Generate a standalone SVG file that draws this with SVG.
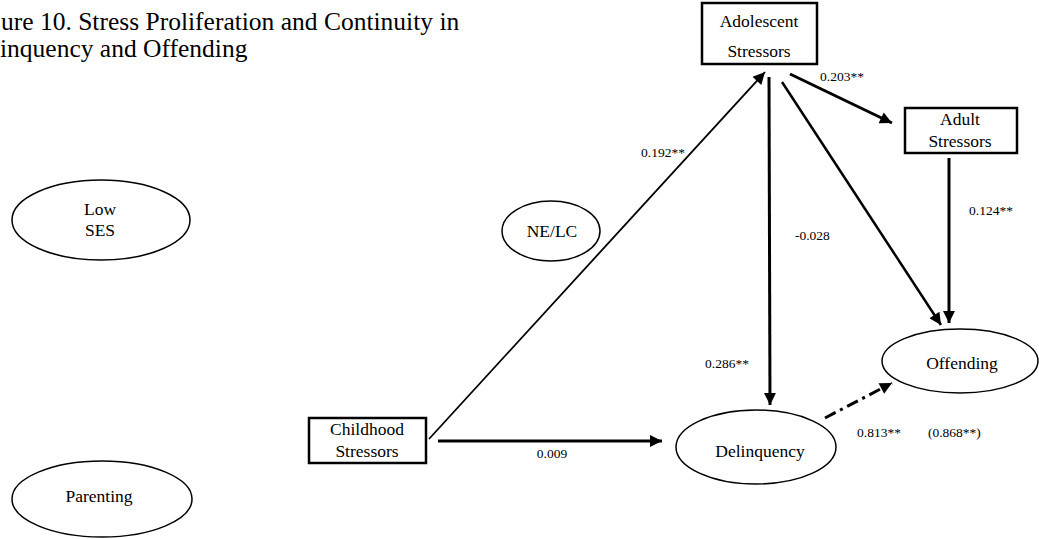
<svg xmlns="http://www.w3.org/2000/svg" width="1039" height="539" viewBox="0 0 1039 539" font-family="'Liberation Serif','Times New Roman',serif">
<style>
.title{font-family:"Liberation Serif","Times New Roman",serif;font-size:25.5px;fill:#000}
.node{font-family:"Liberation Serif","Times New Roman",serif;font-size:17.5px;text-anchor:middle;fill:#000}
.lbl{font-family:"Liberation Serif","Times New Roman",serif;font-size:13.5px;fill:#000}
.box{fill:#fff;stroke:#000;stroke-width:2.5}
.ell{fill:#fff;stroke:#000;stroke-width:1.5}
.c{stroke:#000;fill:none;stroke-width:3}
.thin{stroke-width:1.8}
.mid{stroke-width:2.5}
.dd{stroke-dasharray:12,5,3,5}
</style>
<defs>
<marker id="ah" viewBox="0 0 10 10" refX="10" refY="5" markerWidth="14" markerHeight="12" markerUnits="userSpaceOnUse" orient="auto">
<path d="M0,0 L10,5 L0,10 z" fill="#000"/>
</marker>
</defs>
<text class="title" x="1" y="30">ure 10. Stress Proliferation and Continuity in</text>
<text class="title" x="0" y="57">inquency and Offending</text>
<g id="connectors">
<line class="c thin" x1="429" y1="439" x2="765" y2="72" marker-end="url(#ah)"/>
<line class="c" x1="769" y1="77" x2="770" y2="405" marker-end="url(#ah)"/>
<line class="c mid" x1="782" y1="82" x2="941" y2="325" marker-end="url(#ah)"/>
<line class="c" x1="790" y1="74" x2="892" y2="123" marker-end="url(#ah)"/>
<line class="c" x1="949" y1="158" x2="949" y2="323" marker-end="url(#ah)"/>
<line class="c" x1="438" y1="441" x2="662" y2="441" marker-end="url(#ah)"/>
<line class="c dd" x1="825" y1="418" x2="892" y2="383" marker-end="url(#ah)"/>
</g>
<g id="labels">
<text class="lbl" x="641" y="157">0.192**</text>
<text class="lbl" x="820" y="81">0.203**</text>
<text class="lbl" x="969" y="215">0.124**</text>
<text class="lbl" x="795" y="240">-0.028</text>
<text class="lbl" x="705" y="368">0.286**</text>
<text class="lbl" x="552" y="458" text-anchor="middle">0.009</text>
<text class="lbl" x="857" y="437">0.813**</text>
<text class="lbl" x="928" y="437">(0.868**)</text>
</g>
<g id="adolescent">
<rect class="box" x="702" y="3" width="115" height="61"/>
<text class="node" x="759" y="27">Adolescent</text>
<text class="node" x="759" y="57">Stressors</text>
</g>
<g id="adult">
<rect class="box" x="905" y="108" width="112" height="45"/>
<text class="node" x="960" y="125">Adult</text>
<text class="node" x="960" y="147">Stressors</text>
</g>
<g id="childhood">
<rect class="box" x="309" y="418" width="117" height="45"/>
<text class="node" x="367" y="435">Childhood</text>
<text class="node" x="367" y="457">Stressors</text>
</g>
<g id="lowses">
<ellipse class="ell" cx="101" cy="220" rx="89" ry="40"/>
<text class="node" x="100" y="215">Low</text>
<text class="node" x="100" y="236">SES</text>
</g>
<g id="parenting">
<ellipse class="ell" cx="102" cy="499" rx="90" ry="38"/>
<text class="node" x="99" y="502">Parenting</text>
</g>
<g id="nelc">
<ellipse class="ell" cx="551" cy="231" rx="49" ry="30"/>
<text class="node" x="552" y="237">NE/LC</text>
</g>
<g id="offending">
<ellipse class="ell" cx="960" cy="361" rx="78" ry="32"/>
<text class="node" x="962" y="369">Offending</text>
</g>
<g id="delinquency">
<ellipse class="ell" cx="756" cy="447" rx="80" ry="37"/>
<text class="node" x="760" y="457">Delinquency</text>
</g>
</svg>
